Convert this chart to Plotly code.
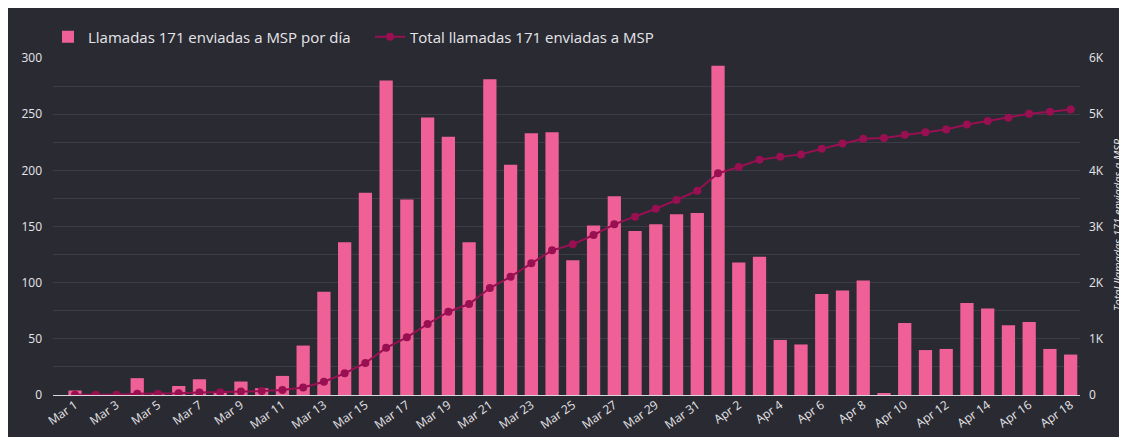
import plotly.graph_objects as go

dates = ["Mar 1", "Mar 2", "Mar 3", "Mar 4", "Mar 5", "Mar 6", "Mar 7", "Mar 8", "Mar 9", "Mar 10",
         "Mar 11", "Mar 12", "Mar 13", "Mar 14", "Mar 15", "Mar 16", "Mar 17", "Mar 18", "Mar 19", "Mar 20",
         "Mar 21", "Mar 22", "Mar 23", "Mar 24", "Mar 25", "Mar 26", "Mar 27", "Mar 28", "Mar 29", "Mar 30",
         "Mar 31", "Apr 1", "Apr 2", "Apr 3", "Apr 4", "Apr 5", "Apr 6", "Apr 7", "Apr 8", "Apr 9",
         "Apr 10", "Apr 11", "Apr 12", "Apr 13", "Apr 14", "Apr 15", "Apr 16", "Apr 17", "Apr 18"]

daily_calls = [4, 0, 0, 15, 1, 8, 14, 2, 12, 6,
               17, 44, 92, 136, 180, 280, 174, 247, 230, 136,
               281, 205, 233, 234, 120, 151, 177, 146, 152, 161,
               162, 293, 118, 123, 49, 45, 90, 93, 102, 1,
               64, 40, 41, 82, 77, 62, 65, 41, 36]

total_calls = [5, 5, 5, 22, 24, 32, 46, 50, 62, 70,
               88, 135, 237, 386, 570, 840, 1027, 1264, 1483, 1620,
               1905, 2106, 2345, 2576, 2683, 2849, 3039, 3175, 3317, 3472,
               3638, 3947, 4060, 4190, 4243, 4284, 4385, 4479, 4562, 4575,
               4633, 4680, 4728, 4817, 4877, 4937, 5008, 5044, 5085]

left_ticks = [0, 50, 100, 150, 200, 250, 300]
right_tickvals = [0, 1000, 2000, 3000, 4000, 5000, 6000]
right_ticktext = ["0", "1K", "2K", "3K", "4K", "5K", "6K"]

BG = "#2a2a32"
GRID = "#3b3c46"
TXT = "#e6e6ea"
BAR = "#ef6097"
LINE = "#980f52"
FONT = "Open Sans"

# the page places the figure 8px in from the top-left corner
OFF = 8
W, H = 1127 - OFF, 437 - OFF
L, R, T, B = 53 - OFF, 47, 58 - OFF, 42
PW, PH = W - L - R, H - T - B


def px_x(p):
    return (p - OFF - L) / PW


def px_y(p):
    return (H - B - (p - OFF)) / PH


fig = go.Figure()
fig.add_trace(go.Bar(
    x=dates, y=daily_calls, name="Llamadas 171 enviadas a MSP por día",
    marker=dict(color=BAR, line=dict(width=0)), yaxis="y"))
fig.add_trace(go.Scatter(
    x=dates, y=total_calls, name="Total llamadas 171 enviadas a MSP",
    mode="lines+markers", line=dict(color=LINE, width=2),
    marker=dict(color=LINE, size=8), yaxis="y2"))

fig.update_layout(
    width=W, height=H,
    margin=dict(l=L, r=R, t=T, b=B, autoexpand=False),
    paper_bgcolor=BG,
    plot_bgcolor=BG,
    bargap=0.36,
    font=dict(family=FONT, color=TXT, size=12),
    showlegend=True,
    legend=dict(orientation="h", x=px_x(48), xanchor="left", y=px_y(37), yanchor="middle",
                font=dict(size=15, color=TXT), bgcolor="rgba(0,0,0,0)",
                itemwidth=30, tracegroupgap=0, entrywidth=277, entrywidthmode="pixels"),
    xaxis=dict(type="category", range=[-1.06, 48.45], tickmode="array",
               tickvals=dates[::2], ticktext=dates[::2], tickangle=-35,
               showgrid=False, showline=False, ticks="", automargin=False,
               tickfont=dict(size=12, color=TXT, family=FONT)),
    yaxis=dict(range=[0, 300], tickvals=left_ticks, showgrid=True, gridcolor=GRID,
               gridwidth=1, zeroline=True, zerolinecolor="#d8d8dc", zerolinewidth=1,
               minor=dict(dtick=25, showgrid=True, gridcolor=GRID, gridwidth=1),
               ticks="", ticklabelstandoff=10, automargin=False,
               tickfont=dict(size=12, color=TXT, family=FONT)),
    yaxis2=dict(range=[0, 6000], overlaying="y", side="right", tickvals=right_tickvals,
                ticktext=right_ticktext, showgrid=False, zeroline=False, ticks="",
                ticklabelstandoff=8, automargin=False,
                tickfont=dict(size=12, color=TXT, family=FONT)),
    annotations=[dict(text="<i>Total llamadas 171 enviadas a MSP</i>", xref="paper", yref="paper",
                      x=px_x(1117), y=px_y(225), textangle=-90, showarrow=False,
                      xanchor="center", yanchor="middle",
                      font=dict(size=11, color=TXT, family=FONT))],
)

fig.write_html("out.html")
